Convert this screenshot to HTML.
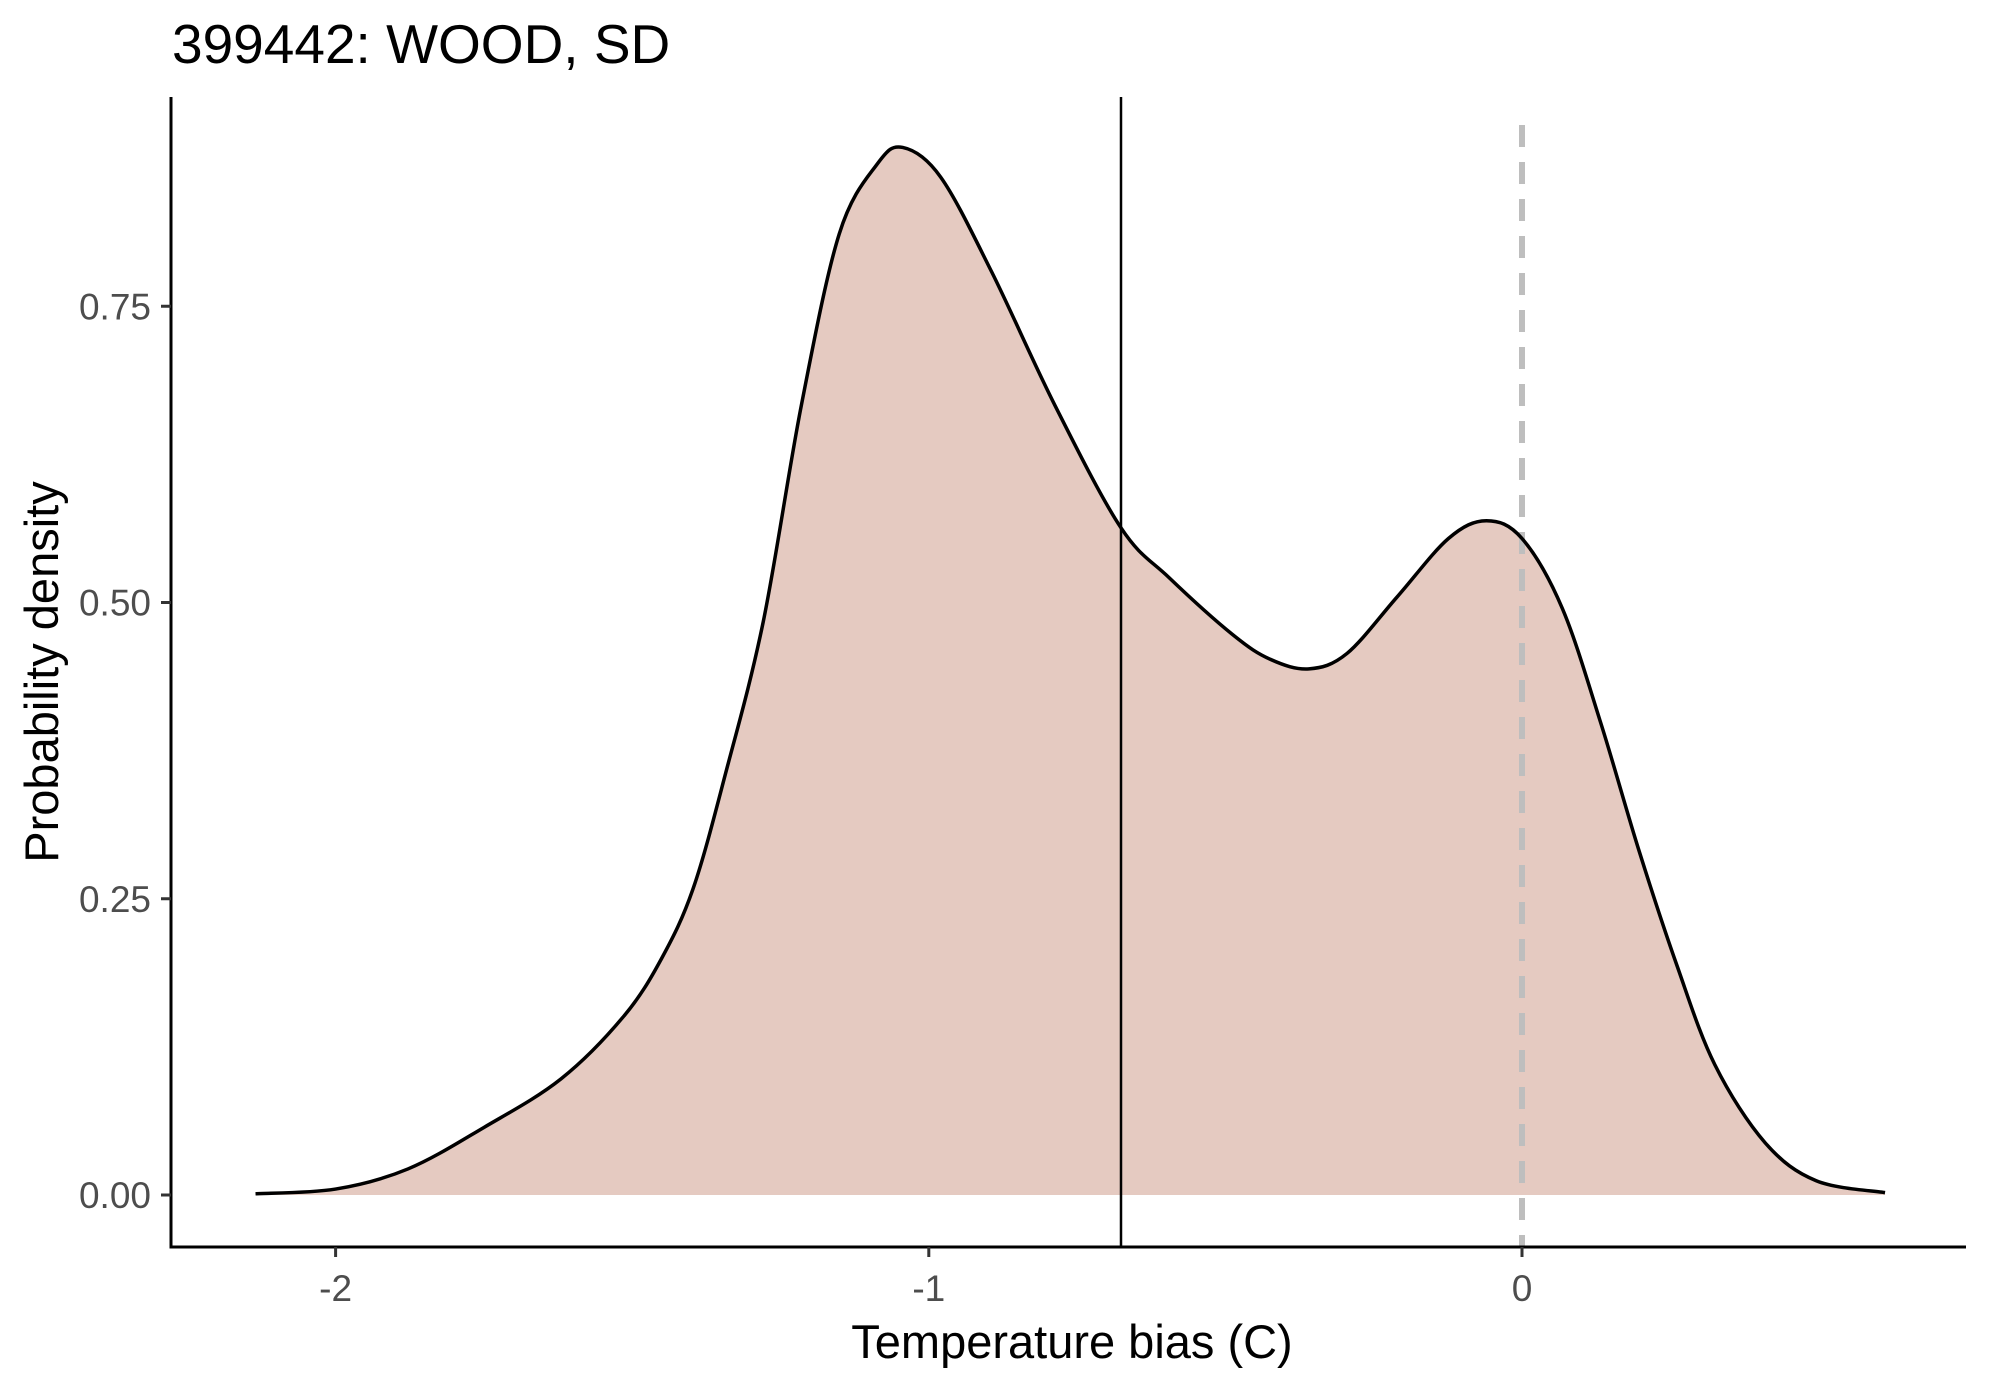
<!DOCTYPE html>
<html><head><meta charset="utf-8"><style>
html,body{margin:0;padding:0;background:#fff;}
svg{display:block;font-family:"Liberation Sans",Arial,sans-serif;}
</style></head><body>
<svg id="chart" width="1990" height="1384" viewBox="0 0 1990 1384">
<text x="172" y="63" font-size="55" fill="#000">399442: WOOD, SD</text>
<g id="plot"></g>
<text x="1072" y="1358" font-size="47" text-anchor="middle" fill="#000">Temperature bias (C)</text>
<text transform="translate(58,672) rotate(-90)" font-size="47" text-anchor="middle" fill="#000">Probability density</text>
</svg>
<script>
const densX = [-2.135,-2.0,-1.878,-1.75,-1.62,-1.514,-1.45,-1.397,-1.343,-1.279,-1.215,-1.151,-1.087,-1.044,-0.98,-0.894,-0.787,-0.676,-0.595,-0.488,-0.424,-0.359,-0.295,-0.21,-0.124,-0.06,0.0,0.068,0.133,0.197,0.261,0.325,0.41,0.496,0.612];
const densY = [0.001,0.005,0.022,0.057,0.098,0.151,0.2,0.259,0.355,0.484,0.666,0.811,0.87,0.884,0.859,0.779,0.666,0.563,0.521,0.473,0.452,0.444,0.457,0.505,0.554,0.569,0.554,0.495,0.398,0.291,0.194,0.11,0.044,0.012,0.002];
const xTicks = [-2,-1,0];
const xTickLabels = ["-2","-1","0"];
const yTicks = [0,0.25,0.5,0.75];
const yTickLabels = ["0.00","0.25","0.50","0.75"];
const meanLine = [-0.676];
const refLine = [0];

const NS="http://www.w3.org/2000/svg";
const g=document.getElementById('plot');
const X0=1522, XS=593.2, Y0=1195, YS=1185;
const sx=v=>X0+v*XS, sy=v=>Y0-v*YS;
const L=171, R=1966, T=97, B=1247;
function mk(t,a){const e=document.createElementNS(NS,t);for(const k in a)e.setAttribute(k,a[k]);g.appendChild(e);return e;}
const pts=densX.map((x,i)=>[sx(x),sy(densY[i])]);
function smooth(p){let d=`M${p[0][0]},${p[0][1]}`;for(let i=0;i<p.length-1;i++){const p0=p[Math.max(0,i-1)],p1=p[i],p2=p[i+1],p3=p[Math.min(p.length-1,i+2)];
const c1=[p1[0]+(p2[0]-p0[0])/6,p1[1]+(p2[1]-p0[1])/6],c2=[p2[0]-(p3[0]-p1[0])/6,p2[1]-(p3[1]-p1[1])/6];
d+=` C${c1[0]},${c1[1]} ${c2[0]},${c2[1]} ${p2[0]},${p2[1]}`;}return d;}
const line=smooth(pts);
const area=mk('path',{d:line+` L${pts[pts.length-1][0]},${sy(0)} L${pts[0][0]},${sy(0)} Z`,fill:'#E5CAC1',stroke:'none'});


const ref=mk('line',{x1:sx(refLine[0]),x2:sx(refLine[0]),y1:T+28,y2:B,stroke:'#BEBEBE','stroke-width':6,'stroke-dasharray':'22,15'});


const mean=mk('line',{x1:sx(meanLine[0]),x2:sx(meanLine[0]),y1:T,y2:B,stroke:'#000','stroke-width':2.5});


const curve=mk('path',{d:line,fill:'none',stroke:'#000','stroke-width':3.5});


const ya=mk('line',{x1:L,x2:L,y1:T,y2:B+1.5,stroke:'#000','stroke-width':3});


const xa=mk('line',{x1:L-1.5,x2:R,y1:B,y2:B,stroke:'#000','stroke-width':3});


xTicks.forEach((v,i)=>{
 const t=mk('line',{x1:sx(v),x2:sx(v),y1:B,y2:B+10,stroke:'#333','stroke-width':3});
 
 
 const l=mk('text',{x:sx(v),y:1301,'font-size':37,fill:'#4D4D4D','text-anchor':'middle'});l.textContent=xTickLabels[i];
 
 
});
yTicks.forEach((v,i)=>{
 const t=mk('line',{x1:L-10,x2:L,y1:sy(v),y2:sy(v),stroke:'#333','stroke-width':3});
 
 
 const l=mk('text',{x:151,y:sy(v)+13,'font-size':37,fill:'#4D4D4D','text-anchor':'end'});l.textContent=yTickLabels[i];
 
 
});
</script>
</body></html>
